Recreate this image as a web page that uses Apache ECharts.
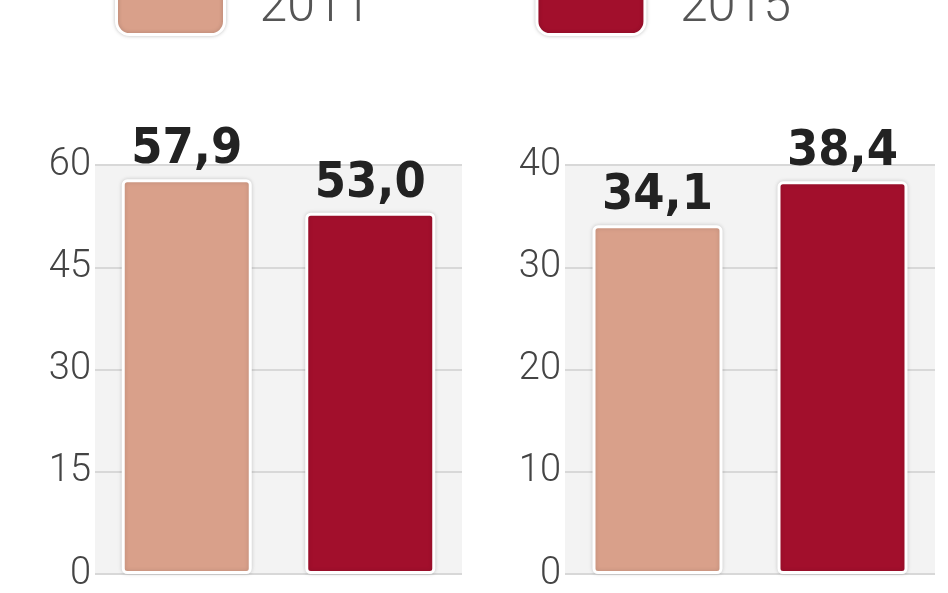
<!DOCTYPE html>
<html><head><meta charset="utf-8">
<script src="https://cdn.jsdelivr.net/npm/echarts@6/dist/echarts.min.js"></script>
<style>html,body{margin:0;padding:0;background:#fff}#c{width:948px;height:593px}</style>
</head><body><div id="c"></div>
<script>
const years = ['2011', '2015'];
const leftValues = [57.9, 53.0];
const rightValues = [34.1, 38.4];
const leftTicks = {max: 60, interval: 15};
const rightTicks = {max: 40, interval: 10};
const colors = ['#d9a08a', '#a20f2c'];

const chart = echarts.init(document.getElementById('c'));
const labelStyle = {show: true, position: 'top', distance: 4, fontSize: 50, fontWeight: 'bold',
  fontFamily: 'DejaVu Sans Condensed', color: '#222',
  formatter: p => p.value.toFixed(1).replace('.', ',')};
function series(i, gi, vals) {
  return {type: 'bar', name: years[i], xAxisIndex: gi, yAxisIndex: gi,
    data: vals.map((v, j) => j === i ? v : '-'), barWidth: 130, barGap: '-100%',
    itemStyle: {color: colors[i], borderColor: '#fff', borderWidth: 3, borderRadius: 4,
      shadowColor: 'rgba(0,0,0,0.15)', shadowBlur: 4},
    label: labelStyle};
}
const yAx = (t) => ({type: 'value', min: 0, max: t.max, interval: t.interval,
  axisLine: {show: false}, axisTick: {show: false},
  axisLabel: {fontSize: 38, color: '#444', fontFamily: 'Roboto', fontWeight: 300, margin: 4},
  splitLine: {lineStyle: {color: '#d8d8d8', width: 2}}});
chart.setOption({
  animation: false,
  legend: {top: -24, left: 110, itemWidth: 108, itemHeight: 52, itemGap: 165,
    icon: 'roundRect', data: years,
    itemStyle: {borderColor: '#fff', borderWidth: 3, shadowColor: 'rgba(0,0,0,0.2)', shadowBlur: 4},
    textStyle: {fontSize: 50, color: '#555', fontFamily: 'Roboto', fontWeight: 300, padding: [0, 0, 0, 30]}},
  grid: [
    {left: 95, width: 367, top: 165, height: 480, show: true, backgroundColor: '#f3f3f3', borderWidth: 0},
    {left: 565, width: 370, top: 165, height: 480, show: true, backgroundColor: '#f3f3f3', borderWidth: 0}
  ],
  xAxis: [
    {type: 'category', gridIndex: 0, data: years, show: false},
    {type: 'category', gridIndex: 1, data: years, show: false}
  ],
  yAxis: [Object.assign({gridIndex: 0}, yAx(leftTicks)), Object.assign({gridIndex: 1}, yAx(rightTicks))],
  series: [series(0, 0, leftValues), series(1, 0, leftValues), series(0, 1, rightValues), series(1, 1, rightValues)]
});
</script></body></html>
